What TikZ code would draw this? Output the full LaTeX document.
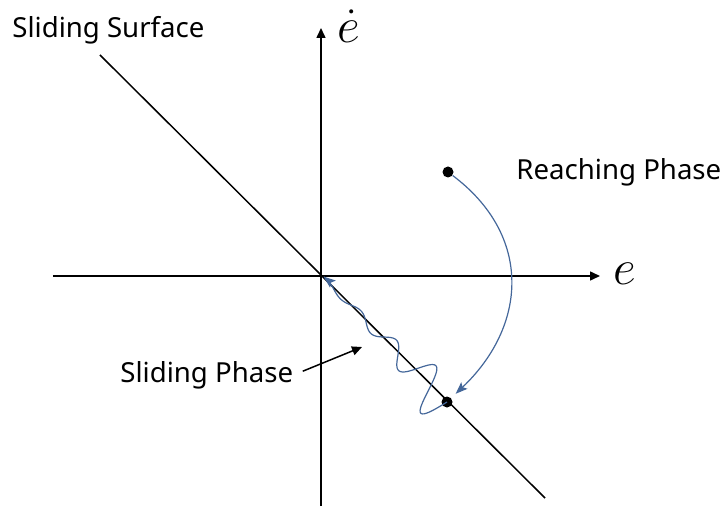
\documentclass[tikz,border=0pt]{standalone}
\usepackage{fontspec}
\setmainfont{Noto Sans}
\usepackage{amsmath}
\usepackage{tikz}
\usetikzlibrary{positioning, arrows.meta, calc}
\definecolor{phaseblue}{HTML}{44679A}

\begin{document}
\begin{tikzpicture}[x=0.5pt, y=0.5pt, font=\fontsize{13.8}{16}\selectfont,
            axis/.style={line width=0.75pt, -{Triangle[length=5pt, width=4.5pt]}},
            dot/.style={circle, fill=black, minimum size=5.5pt, inner sep=0},
            traj/.style={phaseblue, line width=0.6pt, -{Stealth[length=6pt, width=4.5pt, inset=1.2pt]}}]
            \useasboundingbox (-321,-238) rectangle (401,276);
            % Axes
            \coordinate (O) at (0,0);
            \coordinate (xl) at (-268,0);
            \coordinate (xr) at (279,0);
            \coordinate (yb) at (0,-230);
            \coordinate (yt) at (0,248);
            \draw[axis] (xl) -- (xr);
            \draw[axis] (yb) -- (yt);
            \node[font=\fontsize{24}{24}\selectfont] (elab) at (304,2) {$e$};
            \node[font=\fontsize{24}{24}\selectfont, inner sep=0] (edlab) at (28,250) {$\dot{e}$};

            % Sliding surface
            \coordinate (ssa) at (-221,221);
            \coordinate (ssb) at (224,-222);
            \draw[line width=0.75pt] (ssa) -- (ssb);
            \node[anchor=west, inner sep=0] (sslab) at (-309,246) {Sliding Surface};

            % Reaching phase
            \node[dot] (reach) at (127,104) {};
            \node[dot] (hit) at (126,-126) {};
            \draw[traj, shorten >=3pt] (reach) .. controls (212,40) and (206,-50) .. (hit);
            \node[anchor=west, inner sep=0] (rplab) at (195,104) {Reaching Phase};

            % Sliding phase
            \begin{scope}[shift={(hit)}, rotate=135]
                \draw[traj] plot[domain=0:176, samples=220, smooth]
                    (\x, {32*exp(-\x/58)*sin(\x*7.826)});
            \end{scope}
            \node[anchor=west, inner sep=0] (splab) at (-201,-99) {Sliding Phase};
            \coordinate (sptip) at (41,-71);
            \draw[line width=0.75pt, -{Triangle[length=5pt, width=4.5pt]}, shorten <=5pt] (splab.east) -- (sptip);
        \end{tikzpicture}
\end{document}
